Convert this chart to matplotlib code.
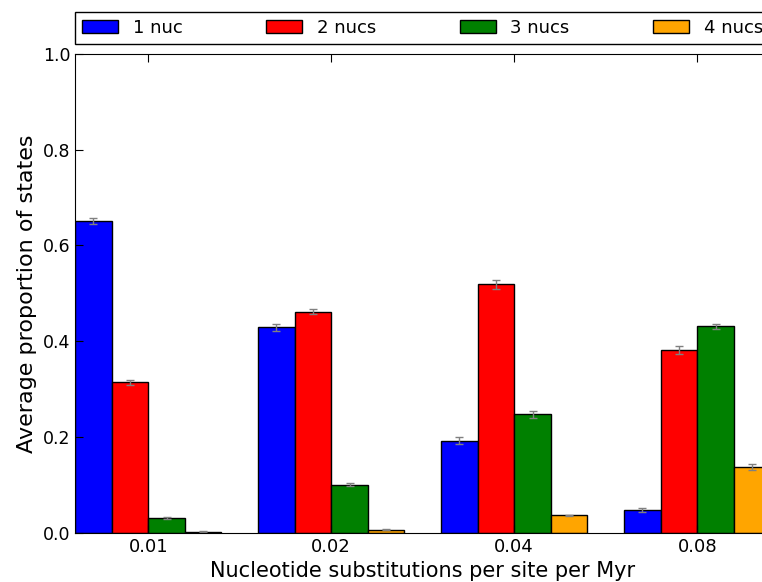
import numpy as np
import matplotlib
matplotlib.use("Agg")
import matplotlib.pyplot as plt

rates = ["0.01", "0.02", "0.04", "0.08"]
labels = ["1 nuc", "2 nucs", "3 nucs", "4 nucs"]
colors = ["blue", "red", "green", "orange"]

one_nuc = [0.651, 0.429, 0.192, 0.047]
two_nucs = [0.314, 0.462, 0.519, 0.381]
three_nucs = [0.031, 0.100, 0.247, 0.431]
four_nucs = [0.002, 0.006, 0.036, 0.138]

one_err = [0.006, 0.008, 0.007, 0.004]
two_err = [0.005, 0.006, 0.009, 0.008]
three_err = [0.002, 0.003, 0.007, 0.006]
four_err = [0.001, 0.001, 0.002, 0.006]

series = [one_nuc, two_nucs, three_nucs, four_nucs]
errors = [one_err, two_err, three_err, four_err]

plt.rcParams.update({
    "font.family": "DejaVu Sans",
    "font.size": 12,
    "xtick.direction": "in",
    "ytick.direction": "in",
    "xtick.top": True,
    "ytick.right": True,
    "xtick.major.size": 6,
    "ytick.major.size": 6,
})

fig = plt.figure(figsize=(7.62, 5.82), dpi=100)
# axes run slightly past the right edge of the canvas
ax = fig.add_axes([75 / 762, 49.3 / 582, 695.4 / 762, 478.7 / 582])

x = np.arange(len(rates))
width = 0.2
for k, (vals, errs) in enumerate(zip(series, errors)):
    ax.bar(x - 0.4 + k * width, vals, width, align="edge", color=colors[k],
           edgecolor="black", linewidth=1.0, label=labels[k],
           yerr=errs, ecolor="gray",
           error_kw=dict(capsize=3, elinewidth=1, capthick=1))

ax.set_xlim(-0.4, 3.4)
ax.set_ylim(0, 1.0)
ax.set_xticks(x)
ax.set_xticklabels(rates, fontsize=13)
ax.set_yticks([0.0, 0.2, 0.4, 0.6, 0.8, 1.0])
ax.tick_params(axis="y", labelsize=12.5)
ax.set_xlabel("Nucleotide substitutions per site per Myr", fontsize=15)
ax.set_ylabel("Average proportion of states", fontsize=16)

ax.legend(loc="lower left", bbox_to_anchor=(0.0, 1.021, 1.0, 0.06), ncol=4,
          mode="expand", borderaxespad=0.0, fancybox=False, edgecolor="black",
          framealpha=1.0, fontsize=13)

fig.savefig("out.png", dpi=100)
